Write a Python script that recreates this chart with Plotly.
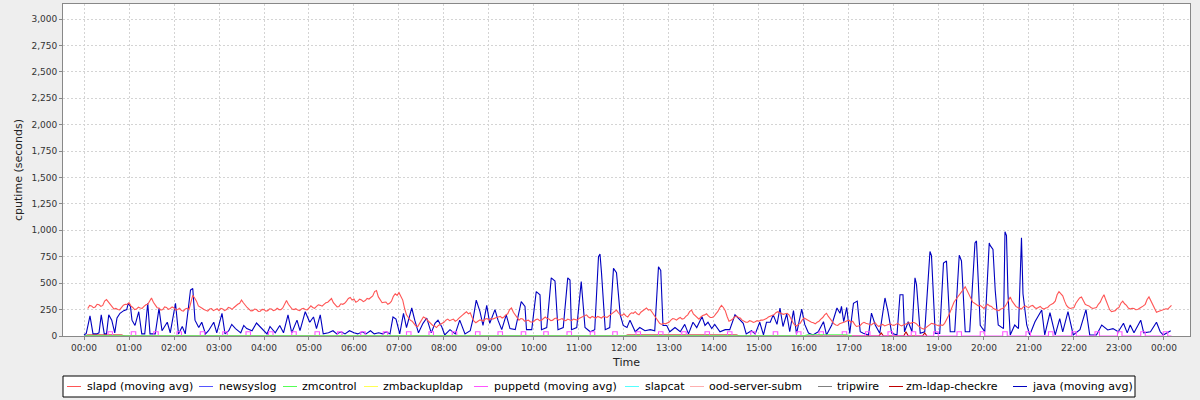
import plotly.graph_objects as go
import pandas as pd

BASE = pd.Timestamp("2011-03-01 00:00")

# ---------------- data ----------------
series_names = ["slapd (moving avg)", "newsyslog", "zmcontrol", "zmbackupldap",
                "puppetd (moving avg)", "slapcat", "ood-server-subm", "tripwire",
                "zm-ldap-checkre", "java (moving avg)"]
series_colors = ["#FF5555", "#5555FF", "#55FF55", "#FFFF55", "#FF55FF",
                 "#55FFFF", "#FFAFAF", "#808080", "#C00000", "#0000C0"]

y_tick_values = [0, 250, 500, 750, 1000, 1250, 1500, 1750, 2000, 2250, 2500, 2750, 3000]

# slapd: samples every 5 minutes starting 00:05, plus the in-between samples (2.5 min later)
slapd_start = "00:05"
slapd_step_minutes = 5
slapd_values = [
    260, 285, 275, 295, 290, 345, 300, 255, 250, 270, 300,
    315, 270, 255, 265, 280, 300, 360, 290, 265, 250, 270, 260,
    265, 250, 240, 255, 250, 385, 330, 270, 250, 235, 260, 250,
    240, 255, 250, 265, 270, 300, 340, 290, 255, 240, 250, 235,
    250, 240, 255, 245, 250, 265, 335, 280, 250, 245, 255, 250,
    265, 270, 280, 290, 300, 320, 355, 290, 280, 300, 330, 365,
    350, 330, 340, 335, 350, 380, 430, 340, 320, 300, 330, 400,
    410, 340, 200, 150, 120, 90, 150, 170, 130, 100, 80, 110,
    130, 160, 150, 140, 170, 200, 230, 220, 140, 135, 150, 160,
    150, 160, 175, 185, 180, 210, 265, 200, 150, 160, 145, 135,
    140, 160, 150, 180, 160, 150, 170, 155, 150, 160, 145, 155,
    165, 180, 200, 170, 175, 185, 170, 180, 190, 215, 245, 200,
    210, 180, 220, 230, 200, 240, 265, 250, 200, 140, 110, 115,
    130, 165, 150, 175, 165, 200, 245, 190, 160, 195, 210, 175,
    185, 230, 290, 240, 140, 160, 190, 170, 140, 130, 140, 135,
    140, 150, 165, 185, 200, 230, 215, 210, 200, 130, 95, 120,
    170, 150, 130, 115, 140, 175, 215, 160, 115, 100, 120, 135,
    150, 140, 90, 100, 130, 115, 105, 125, 90, 110, 100, 115,
    100, 120, 95, 110, 125, 130, 115, 80, 65, 95, 120, 110,
    95, 100, 150, 230, 320, 370, 410, 465, 390, 320, 300, 290,
    260, 300, 280, 250, 240, 260, 300, 370, 300, 270, 255, 285,
    270, 290, 260, 280, 255, 270, 300, 330, 420, 380, 290, 260,
    270, 340, 370, 300, 285, 260, 270, 320, 390, 300, 230, 240,
    270, 330, 290, 255, 260, 250, 270, 300, 370, 300, 225, 240,
    250, 255, 290,
]
slapd_mid_values = [
    290, 268, 300, 280, 330, 320, 270, 262, 248, 292, 298,
    285, 250, 272, 262, 295, 335, 320, 268, 245, 275, 252, 275,
    245, 262, 235, 262, 330, 360, 285, 262, 242, 255, 240, 258,
    262, 240, 270, 252, 290, 310, 315, 270, 238, 255, 232, 252,
    235, 258, 240, 262, 250, 305, 300, 255, 258, 240, 262, 248,
    285, 262, 295, 282, 315, 340, 315, 275, 305, 310, 355, 340,
    320, 348, 325, 355, 365, 420, 370, 315, 322, 310, 375, 385,
    370, 260, 175, 140, 95, 120, 180, 150, 110, 95, 100, 125,
    150, 145, 160, 150, 190, 215, 210, 175, 125, 150, 140, 165,
    165, 170, 180, 170, 200, 250, 225, 165, 165, 140, 150, 130,
    155, 145, 170, 165, 145, 165, 150, 165, 145, 155, 160, 150,
    175, 190, 180, 185, 170, 180, 185, 175, 205, 235, 220, 195,
    190, 205, 215, 210, 225, 255, 245, 225, 165, 120, 120, 125,
    150, 160, 165, 160, 185, 230, 210, 170, 180, 200, 190, 175,
    210, 265, 270, 185, 150, 180, 175, 150, 130, 145, 128, 145,
    150, 155, 180, 190, 220, 220, 205, 215, 160, 105, 110, 150,
    160, 135, 125, 130, 160, 200, 185, 130, 105, 115, 125, 145,
    130, 110, 95, 120, 120, 105, 120, 100, 105, 95, 110, 105,
    110, 105, 105, 120, 120, 125, 95, 70, 80, 110, 115, 100,
    105, 120, 190, 280, 345, 395, 440, 430, 350, 310, 285, 270,
    285, 285, 260, 245, 255, 275, 340, 330, 280, 260, 275, 275,
    285, 270, 270, 262, 265, 290, 310, 390, 395, 330, 270, 265,
    310, 360, 330, 290, 270, 265, 300, 360, 340, 250, 235, 260,
    310, 305, 265, 262, 248, 262, 285, 345, 330, 250, 232, 245,
    258, 275,
]

java_times = [
    "00:00", "00:03", "00:08", "00:12", "00:17", "00:20", "00:23", "00:27", "00:30", "00:33", "00:37", "00:41", "00:44", "00:48", "00:53", "00:57", "00:59",
    "01:02", "01:04", "01:08", "01:13", "01:17", "01:21", "01:25", "01:28", "01:35", "01:40", "01:44", "01:51", "01:55",
    "02:02", "02:06", "02:11", "02:15", "02:22", "02:25", "02:28", "02:33", "02:37", "02:42", "02:46", "02:53", "02:57",
    "03:04", "03:08", "03:13", "03:17", "03:22", "03:29", "03:33", "03:37", "03:44", "03:50", "03:57",
    "04:04", "04:08", "04:15", "04:21", "04:26", "04:32", "04:37", "04:44", "04:48", "04:55",
    "05:01", "05:06", "05:10", "05:15", "05:19", "05:26", "05:32", "05:37", "05:43", "05:48", "05:54",
    "06:00", "06:05", "06:11", "06:16", "06:22", "06:27", "06:33", "06:38", "06:43", "06:48", "06:52", "06:56",
    "07:01", "07:06", "07:10", "07:17", "07:21", "07:26", "07:32", "07:37", "07:43", "07:48", "07:52", "07:57",
    "08:01", "08:08", "08:15", "08:21", "08:28", "08:35", "08:39", "08:43", "08:48", "08:52", "08:57",
    "09:01", "09:08", "09:12", "09:17", "09:23", "09:28", "09:35", "09:43", "09:48", "09:50", "09:57",
    "10:03", "10:08", "10:10", "10:17", "10:23", "10:28", "10:32", "10:39", "10:45", "10:48", "10:50", "10:57",
    "11:03", "11:08", "11:15", "11:21", "11:26", "11:28", "11:30", "11:35", "11:41", "11:46", "11:50", "11:55", "11:59",
    "12:04", "12:08", "12:15", "12:21", "12:28", "12:35", "12:41", "12:46", "12:49", "12:52", "12:57",
    "13:01", "13:08", "13:15", "13:21", "13:26", "13:32", "13:37", "13:44", "13:48", "13:52", "13:57",
    "14:01", "14:08", "14:15", "14:21", "14:28", "14:35", "14:39", "14:43", "14:50", "14:55",
    "15:01", "15:06", "15:10", "15:15", "15:19", "15:24", "15:28", "15:32", "15:37", "15:41", "15:46", "15:50", "15:57",
    "16:01", "16:06", "16:12", "16:19", "16:26", "16:30", "16:37", "16:44", "16:48", "16:50", "16:53", "16:57",
    "17:01", "17:06", "17:11", "17:15", "17:19", "17:26", "17:30", "17:35", "17:41", "17:48", "17:52", "17:57",
    "18:04", "18:08", "18:12", "18:14", "18:19", "18:24", "18:28", "18:30", "18:35", "18:41", "18:48", "18:50", "18:55",
    "19:01", "19:06", "19:10", "19:15", "19:21", "19:27", "19:30", "19:35", "19:41", "19:48", "19:50", "19:55",
    "20:01", "20:07", "20:08", "20:12", "20:15", "20:19", "20:26", "20:28", "20:30", "20:32", "20:35", "20:41", "20:46", "20:50", "20:52", "20:57",
    "21:01", "21:08", "21:17", "21:21", "21:28", "21:35", "21:41", "21:45", "21:52", "21:59",
    "22:08", "22:16", "22:21", "22:30", "22:37", "22:45", "22:52", "22:59",
    "23:06", "23:11", "23:15", "23:20", "23:29", "23:33", "23:42", "23:50", "23:55", "23:59",
    "24:05", "24:09",
]
java_values = [
    10, 25, 190, 20, 20, 30, 200, 20, 20, 200, 150, 30, 170, 215, 240, 250, 310,
    277, 150, 100, 230, 20, 20, 310, 20, 20, 262, 50, 130, 30,
    310, 20, 90, 20, 435, 450, 150, 80, 130, 20, 50, 130, 30,
    215, 20, 50, 110, 70, 30, 100, 70, 50, 123, 70,
    20, 90, 30, 100, 30, 200, 30, 150, 50, 230,
    130, 180, 70, 200, 20, 30, 50, 20, 40, 20, 50,
    30, 20, 40, 20, 50, 20, 30, 20, 40, 20, 180, 160,
    20, 215, 80, 265, 150, 30, 120, 170, 30, 120, 150, 88,
    10, 60, 20, 150, 20, 50, 170, 340, 230, 100, 290,
    120, 250, 150, 60, 200, 70, 60, 325, 280, 60, 60,
    420, 390, 60, 80, 550, 520, 60, 80, 550, 530, 60, 80,
    515, 80, 40, 60, 750, 775, 600, 60, 80, 640, 600, 200, 100,
    80, 150, 40, 80, 50, 60, 50, 655, 620, 100, 100,
    40, 80, 40, 110, 20, 130, 80, 183, 100, 130, 70,
    110, 40, 60, 60, 200, 150, 120, 20, 50, 20,
    130, 10, 130, 130, 200, 110, 265, 90, 210, 40, 240, 20, 255,
    110, 28, 10, 40, 135, 10, 104, 265, 215, 280, 135, 270,
    25, 310, 330, 40, 25, 10, 217, 104, 25, 360, 230, 25,
    10, 390, 390, 40, 135, 40, 550, 490, 25, 40, 800, 760, 25,
    25, 690, 710, 40, 40, 765, 710, 40, 40, 880, 900, 100,
    40, 880, 860, 820, 430, 104, 70, 986, 950, 400, 10, 104, 70, 930, 400, 104,
    10, 135, 246, 10, 220, 10, 165, 40, 230, 10,
    60, 250, 10, 10, 104, 57, 70, 40,
    120, 30, 104, 30, 150, 30, 40, 130, 40, 10,
    30, 50,
]

# puppetd (moving avg): short square pulses
puppetd_pulse_starts = ["00:32", "01:03", "01:33", "02:04", "02:35", "03:05", "03:36", "04:06",
                        "04:37", "05:08", "05:38", "06:09", "06:39", "07:10", "07:40", "08:11",
                        "08:42", "09:12", "09:43", "10:13", "10:44", "11:15", "11:45", "12:16",
                        "12:46", "13:17", "13:48", "14:18", "14:49", "15:19", "15:50", "16:20",
                        "16:51", "17:22", "17:52", "18:23", "18:53", "19:24", "19:55", "20:25",
                        "20:56", "21:26", "21:57", "22:28", "22:58", "23:29", "23:59"]
puppetd_pulse_minutes = 6
puppetd_pulse_level = 40
puppetd_span = ["00:00", "24:10"]

zmcontrol_times = ["00:00", "16:00", "16:05", "16:55", "17:04"]
zmcontrol_values = [2, 2, 12, 12, 2]

zmldap_times = ["00:00", "00:05", "00:50", "00:55", "12:00", "12:05", "14:30", "14:35",
                "17:40", "17:43", "17:46", "18:13", "18:16", "18:19", "18:38", "18:41", "18:44"]
zmldap_values = [0, 9, 9, 0, 0, 9, 9, 0, 0, 30, 0, 0, 40, 0, 0, 30, 0]

newsyslog_times = ["00:00", "00:02"]
newsyslog_values = [0, 0]
zmbackupldap_times = ["00:00", "00:02"]
zmbackupldap_values = [0, 0]
slapcat_times = ["00:00", "00:02"]
slapcat_values = [0, 0]
ood_times = ["00:00", "00:02"]
ood_values = [0, 0]
tripwire_times = ["00:00", "00:02"]
tripwire_values = [0, 0]

# ---------------- helpers ----------------
def ts(hhmm):
    h, m = hhmm.split(":")
    return BASE + pd.Timedelta(minutes=int(h) * 60 + int(m))

assert len(java_times) == len(java_values)
assert len(slapd_mid_values) == len(slapd_values) - 1

slapd_x, slapd_y = [], []
t_start = ts(slapd_start)
for i, v in enumerate(slapd_values):
    slapd_x.append(t_start + pd.Timedelta(minutes=slapd_step_minutes * i))
    slapd_y.append(v)
    if i < len(slapd_mid_values):
        slapd_x.append(t_start + pd.Timedelta(minutes=slapd_step_minutes * i + slapd_step_minutes / 2))
        slapd_y.append(slapd_mid_values[i])

pup_x, pup_y = [ts(puppetd_span[0])], [0]
for s in puppetd_pulse_starts:
    t0 = ts(s)
    pup_x += [t0, t0 + pd.Timedelta(minutes=puppetd_pulse_minutes)]
    pup_y += [puppetd_pulse_level, 0]
pup_x.append(ts(puppetd_span[1]))
pup_y.append(0)

data = {
    "slapd (moving avg)": (slapd_x, slapd_y, "linear"),
    "newsyslog": ([ts(t) for t in newsyslog_times], newsyslog_values, "linear"),
    "zmcontrol": ([ts(t) for t in zmcontrol_times], zmcontrol_values, "linear"),
    "zmbackupldap": ([ts(t) for t in zmbackupldap_times], zmbackupldap_values, "linear"),
    "puppetd (moving avg)": (pup_x, pup_y, "hv"),
    "slapcat": ([ts(t) for t in slapcat_times], slapcat_values, "linear"),
    "ood-server-subm": ([ts(t) for t in ood_times], ood_values, "linear"),
    "tripwire": ([ts(t) for t in tripwire_times], tripwire_values, "linear"),
    "zm-ldap-checkre": ([ts(t) for t in zmldap_times], zmldap_values, "linear"),
    "java (moving avg)": ([ts(t) for t in java_times], java_values, "linear"),
}

fig = go.Figure()
# JFreeChart renders series in reverse order: first series on top
for name, color in reversed(list(zip(series_names, series_colors))):
    x, y, shape = data[name]
    fig.add_trace(go.Scatter(x=x, y=y, mode="lines", name=name,
                             line=dict(color=color, width=1.1, shape=shape),
                             showlegend=False))

# ---------------- layout ----------------
W, H = 1200, 400
ML, MR, MT, MB = 63, 10, 4, 64
PW, PH = W - ML - MR, H - MT - MB
def px_x(p): return (p - ML) / PW
def px_y(p): return (H - MB - p) / PH

FONT = "DejaVu Sans"
grid = "#d4d4d4"

fig.update_layout(
    width=W, height=H, autosize=False,
    margin=dict(l=ML, r=MR, t=MT, b=MB, pad=0, autoexpand=False),
    paper_bgcolor="#EEEEEE", plot_bgcolor="#FFFFFF",
    font=dict(family=FONT, size=9, color="#444444"),
    showlegend=False,
)
fig.update_xaxes(
    type="date",
    range=[BASE - pd.Timedelta(minutes=28), BASE + pd.Timedelta(minutes=1474.7)],
    tick0=BASE, dtick=3600000, tickformat="%H:%M",
    ticks="outside", ticklen=3, tickcolor="#888888",
    showgrid=True, gridcolor=grid, griddash="2px,2px", gridwidth=1,
    showline=True, linecolor="#888888", linewidth=1, mirror=True,
    zeroline=False, automargin=False,
    tickfont=dict(family=FONT, size=9, color="#333333"),
    title=dict(text="Time", font=dict(family=FONT, size=11, color="#222222"), standoff=6),
)
fig.update_yaxes(
    range=[0, 3142], tickvals=y_tick_values, tickformat=",",
    ticks="outside", ticklen=3, tickcolor="#888888",
    showgrid=True, gridcolor=grid, griddash="2px,2px", gridwidth=1,
    showline=True, linecolor="#888888", linewidth=1, mirror=True,
    zeroline=False, automargin=False,
    tickfont=dict(family=FONT, size=9, color="#333333"),
    title=dict(text="cputime (seconds)", font=dict(family=FONT, size=11, color="#222222"), standoff=6),
)

# ---------------- manual legend (JFreeChart style) ----------------
legend_line_px = [67, 199, 283, 364, 474, 625, 690, 818, 889, 1013]
legend_text_px = [86, 218, 301, 382, 493, 644, 708, 836, 905, 1031]
legend_box_px = (63, 376, 1135, 397)
legend_line_len = 14
legend_y = 386.5

shapes = [dict(type="rect", xref="paper", yref="paper",
               x0=px_x(legend_box_px[0]), x1=px_x(legend_box_px[2]),
               y0=px_y(legend_box_px[3]), y1=px_y(legend_box_px[1]),
               line=dict(color="#000000", width=1), fillcolor="#FFFFFF", layer="below")]
annotations = []
for name, color, lx, tx in zip(series_names, series_colors, legend_line_px, legend_text_px):
    shapes.append(dict(type="line", xref="paper", yref="paper",
                       x0=px_x(lx), x1=px_x(lx + legend_line_len),
                       y0=px_y(legend_y), y1=px_y(legend_y),
                       line=dict(color=color, width=1)))
    annotations.append(dict(text=name, xref="paper", yref="paper",
                            x=px_x(tx), y=px_y(legend_y), xanchor="left", yanchor="middle",
                            showarrow=False, borderpad=0,
                            font=dict(family=FONT, size=11, color="#000000")))
fig.update_layout(shapes=shapes, annotations=annotations)

fig.write_html("out.html",
               config={"displayModeBar": False},
               post_script="document.body.style.margin='0px';document.body.style.overflow='hidden';")
